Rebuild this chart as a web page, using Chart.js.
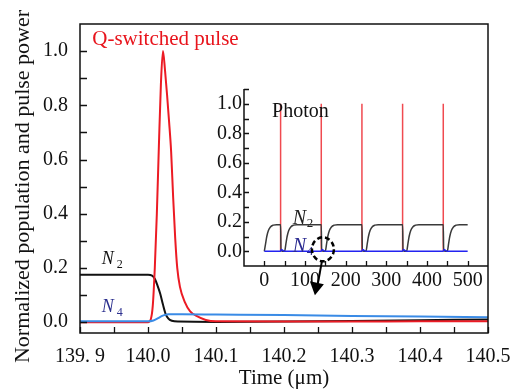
<!DOCTYPE html>
<html>
<head>
<meta charset="utf-8">
<script src="https://cdn.jsdelivr.net/npm/chart.js@4.4.1/dist/chart.umd.min.js"></script>
<style>
  html, body { margin: 0; padding: 0; background: #fff; }
  #wrap { position: relative; width: 523px; height: 389px; overflow: hidden; font-family: "Liberation Serif", serif; }
  #mainChart { position: absolute; left: 0; top: 0; }
  #insetChart { position: absolute; left: 200px; top: 75px; }
</style>
</head>
<body>
<div id="wrap">
  <canvas id="mainChart" width="523" height="389"></canvas>
  <canvas id="insetChart" width="300" height="230"></canvas>
</div>
<script>
// main plot: time axis and tick labels
const xTickValues = [139.9, 140.0, 140.1, 140.2, 140.3, 140.4, 140.5];
const xTickLabels = ["139. 9", "140.0", "140.1", "140.2", "140.3", "140.4", "140.5"];
const xMinorTicks = [139.95, 140.05, 140.15, 140.25, 140.35, 140.45];
const yTickValues = [0, 0.2, 0.4, 0.6, 0.8, 1.0];
const yTickLabels = ["0.0", "0.2", "0.4", "0.6", "0.8", "1.0"];
const yMinorTicks = [0.1, 0.3, 0.5, 0.7, 0.9];

// Q-switched pulse (red)
const pulseTime = [139.9, 140.0, 140.004, 140.007, 140.01, 140.013, 140.016, 140.019, 140.022, 140.025, 140.028,
  140.031, 140.034, 140.037, 140.04, 140.043, 140.047, 140.054, 140.062, 140.072, 140.085, 140.1, 140.2, 140.3, 140.4, 140.5];
const pulseValue = [0, 0, 0.01, 0.06, 0.2, 0.4, 0.65, 0.88, 1.0, 0.93, 0.84,
  0.74, 0.63, 0.46, 0.31, 0.2, 0.13, 0.075, 0.04, 0.022, 0.008, 0.003, 0.002, 0.002, 0.003, 0.003];

// N2 population (black)
const n2Time = [139.9, 140.0, 140.006, 140.01, 140.014, 140.018, 140.022, 140.026, 140.03, 140.035, 140.045,
  140.1, 140.2, 140.3, 140.4, 140.5];
const n2Value = [0.175, 0.175, 0.172, 0.16, 0.135, 0.105, 0.065, 0.03, 0.013, 0.005, 0.002,
  0.001, 0.002, 0.004, 0.007, 0.01];

// N4 population (blue)
const n4Time = [139.9, 140.0, 140.008, 140.015, 140.02, 140.025, 140.03, 140.05, 140.1, 140.2, 140.3, 140.4, 140.5];
const n4Value = [0.003, 0.003, 0.006, 0.015, 0.022, 0.027, 0.029, 0.029, 0.028, 0.026, 0.023, 0.021, 0.018];

// inset: pulse train
const insetXTicks = [0, 100, 200, 300, 400, 500];
const insetXMinor = [50, 150, 250, 350, 450];
const insetYTicks = [0, 0.2, 0.4, 0.6, 0.8, 1.0];
const insetYMinor = [0.1, 0.3, 0.5, 0.7, 0.9, 1.1];

const insetN2Time = [0, 3, 6, 10, 15, 22, 30, 40, 41, 50, 53, 56, 60, 65, 72, 80, 140, 141, 150, 153, 156, 160, 165, 172, 180,
  240, 241, 250, 253, 256, 260, 265, 272, 280, 340, 341, 350, 353, 356, 360, 365, 372, 380,
  440, 441, 450, 453, 456, 460, 465, 472, 480, 500];
const insetN2Value = [0, 0.05, 0.1, 0.14, 0.165, 0.177, 0.18, 0.18, 0.005, 0, 0.05, 0.1, 0.14, 0.165, 0.177, 0.18, 0.18, 0.005, 0, 0.05, 0.1, 0.14, 0.165, 0.177, 0.18,
  0.18, 0.005, 0, 0.05, 0.1, 0.14, 0.165, 0.177, 0.18, 0.18, 0.005, 0, 0.05, 0.1, 0.14, 0.165, 0.177, 0.18,
  0.18, 0.005, 0, 0.05, 0.1, 0.14, 0.165, 0.177, 0.18, 0.18];

const insetN4Time = [0, 40, 42, 46, 50, 140, 142, 146, 150, 240, 242, 246, 250, 340, 342, 346, 350, 440, 442, 446, 450, 500];
const insetN4Value = [0, 0, 0.012, 0.004, 0, 0, 0.012, 0.004, 0, 0, 0.012, 0.004, 0, 0, 0.012, 0.004, 0, 0, 0.012, 0.004, 0, 0];

const photonTime = [40, 140, 240, 340, 440];
const photonPeak = [1, 1, 1, 1, 1];

const serif = "'Liberation Serif', 'Times New Roman', 'DejaVu Serif', serif";
Chart.defaults.font.family = serif;
Chart.defaults.color = "#111";

function pairs(xs, ys) {
  return xs.map((x, i) => ({ x: x, y: ys[i] }));
}

function spikes(xs, ys) {
  const out = [];
  xs.forEach((x, i) => {
    out.push({ x: x, y: 0 }, { x: x, y: ys[i] }, { x: x, y: null });
  });
  return out;
}

function drawTicks(ctx, chart, xs, ys, lenX, lenY) {
  const a = chart.chartArea;
  const sx = chart.scales.x, sy = chart.scales.y;
  ctx.beginPath();
  xs.forEach(v => {
    const px = Math.round(sx.getPixelForValue(v)) + 0.5;
    ctx.moveTo(px, a.bottom);
    ctx.lineTo(px, a.bottom - lenX);
  });
  ys.forEach(v => {
    const py = Math.round(sy.getPixelForValue(v)) + 0.5;
    ctx.moveTo(a.left, py);
    ctx.lineTo(a.left + lenY, py);
  });
  ctx.stroke();
}

function label(ctx, text, x, y, font, color) {
  ctx.font = font;
  ctx.fillStyle = color;
  ctx.textAlign = "left";
  ctx.textBaseline = "alphabetic";
  ctx.fillText(text, x, y);
}

const mainDecor = {
  id: "mainDecor",
  afterDraw(chart) {
    const ctx = chart.ctx;
    const a = chart.chartArea;
    const sx = chart.scales.x, sy = chart.scales.y;
    ctx.save();
    ctx.strokeStyle = "#111";
    ctx.lineWidth = 1.5;
    ctx.strokeRect(a.left, a.top, a.right - a.left, a.bottom - a.top);
    ctx.lineWidth = 1.3;
    drawTicks(ctx, chart, xTickValues.concat(xMinorTicks), yTickValues.concat(yMinorTicks), 6, 7);

    // y axis title, sits a bit below the plot centre in the original
    ctx.save();
    ctx.translate(23, (a.top + a.bottom) / 2 + 8);
    ctx.rotate(-Math.PI / 2);
    ctx.font = "22px " + serif;
    ctx.fillStyle = "#111";
    ctx.textAlign = "center";
    ctx.textBaseline = "middle";
    ctx.fillText("Normalized population and pulse power", 0, 0);
    ctx.restore();

    label(ctx, "Q-switched pulse", sx.getPixelForValue(139.918), sy.getPixelForValue(1.023), "21px " + serif, "#e8141c");
    const nx = sx.getPixelForValue(139.932);
    const n2y = sy.getPixelForValue(0.213);
    label(ctx, "N", nx, n2y, "italic 18px " + serif, "#111");
    label(ctx, "2", nx + 15, n2y + 4, "12px " + serif, "#111");
    const n4y = sy.getPixelForValue(0.036);
    label(ctx, "N", nx, n4y, "italic 18px " + serif, "#2b2f8e");
    label(ctx, "4", nx + 15, n4y + 4, "12px " + serif, "#2b2f8e");
    ctx.restore();
  }
};

const insetDecor = {
  id: "insetDecor",
  afterDraw(chart) {
    const ctx = chart.ctx;
    const a = chart.chartArea;
    const sx = chart.scales.x, sy = chart.scales.y;
    ctx.save();
    ctx.strokeStyle = "#111";
    ctx.lineWidth = 1.5;
    ctx.beginPath();
    ctx.moveTo(a.left, a.top);
    ctx.lineTo(a.left, a.bottom);
    ctx.lineTo(a.right, a.bottom);
    ctx.stroke();
    ctx.lineWidth = 1.3;
    drawTicks(ctx, chart, insetXTicks.concat(insetXMinor), insetYTicks.concat(insetYMinor), 5, 5);

    label(ctx, "Photon", sx.getPixelForValue(19), sy.getPixelForValue(0.908), "20px " + serif, "#111");
    const nx = sx.getPixelForValue(70);
    const n2y = sy.getPixelForValue(0.185);
    label(ctx, "N", nx, n2y, "italic 20px " + serif, "#222");
    label(ctx, "2", nx + 14, n2y + 3, "13px " + serif, "#222");
    const n4y = sy.getPixelForValue(-0.007);
    label(ctx, "N", nx, n4y, "italic 20px " + serif, "#2a2a90");
    label(ctx, "4", nx + 14, n4y + 3, "13px " + serif, "#2a2a90");

    // dashed zoom circle and arrow
    const cx = sx.getPixelForValue(144);
    const cy = sy.getPixelForValue(0.013);
    ctx.strokeStyle = "#000";
    ctx.lineWidth = 2.5;
    ctx.setLineDash([5, 3]);
    ctx.beginPath();
    ctx.ellipse(cx, cy, 11, 12, 0, 0, Math.PI * 2);
    ctx.stroke();
    ctx.setLineDash([]);
    ctx.lineWidth = 2;
    ctx.beginPath();
    ctx.moveTo(cx - 1, cy + 12);
    ctx.lineTo(cx - 5, cy + 34);
    ctx.stroke();
    ctx.fillStyle = "#000";
    ctx.beginPath();
    ctx.moveTo(cx - 8, cy + 46);
    ctx.lineTo(cx - 13, cy + 32);
    ctx.lineTo(cx + 1, cy + 35);
    ctx.closePath();
    ctx.fill();
    ctx.restore();
  }
};

function drawCharts() {
  new Chart(document.getElementById("mainChart"), {
    type: "line",
    data: {
      datasets: [
        { label: "N4", data: pairs(n4Time, n4Value), borderColor: "#3a8be6" },
        { label: "pulse", data: pairs(pulseTime, pulseValue), borderColor: "#ec1b24" },
        { label: "N2", data: pairs(n2Time, n2Value), borderColor: "#111111" }
      ]
    },
    options: {
      responsive: false,
      animation: false,
      layout: { padding: { top: 16, right: 35, left: 0, bottom: 0 } },
      plugins: { legend: { display: false }, tooltip: { enabled: false } },
      elements: {
        point: { radius: 0 },
        line: { borderWidth: 2, cubicInterpolationMode: "monotone", fill: false }
      },
      scales: {
        x: {
          type: "linear",
          min: 139.9,
          max: 140.5,
          afterBuildTicks: s => { s.ticks = xTickValues.map(v => ({ value: v })); },
          afterFit: s => { s.height = 56; },
          grid: { display: false, drawTicks: false },
          border: { display: false },
          ticks: {
            padding: 12,
            maxRotation: 0,
            autoSkip: false,
            font: { size: 20 },
            callback: (v, i) => xTickLabels[i]
          },
          title: { display: true, text: "Time (μm)", font: { size: 21, lineHeight: 1 }, padding: { top: 0, bottom: 0 } }
        },
        y: {
          min: -0.04,
          max: 1.1,
          afterBuildTicks: s => { s.ticks = yTickValues.map(v => ({ value: v })); },
          afterFit: s => { s.width = 80; },
          grid: { display: false, drawTicks: false },
          border: { display: false },
          ticks: {
            padding: 12,
            autoSkip: false,
            font: { size: 20 },
            callback: (v, i) => yTickLabels[i]
          }
        }
      }
    },
    plugins: [mainDecor]
  });

  new Chart(document.getElementById("insetChart"), {
    type: "line",
    data: {
      datasets: [
        { label: "N4", data: pairs(insetN4Time, insetN4Value), borderColor: "#2323f0", borderWidth: 1.5 },
        { label: "N2", data: pairs(insetN2Time, insetN2Value), borderColor: "#3a3a3a", borderWidth: 1.5 },
        { label: "Photon", data: spikes(photonTime, photonPeak), borderColor: "#f04a50", borderWidth: 1.5, cubicInterpolationMode: "default", tension: 0 }
      ]
    },
    options: {
      responsive: false,
      animation: false,
      layout: { padding: { top: 10, right: 12, left: 0, bottom: 0 } },
      plugins: { legend: { display: false }, tooltip: { enabled: false } },
      elements: {
        point: { radius: 0 },
        line: { cubicInterpolationMode: "monotone", fill: false }
      },
      scales: {
        x: {
          type: "linear",
          min: -50,
          max: 550,
          afterBuildTicks: s => { s.ticks = insetXTicks.map(v => ({ value: v })); },
          afterFit: s => { s.height = 39; },
          grid: { display: false, drawTicks: false },
          border: { display: false },
          ticks: { padding: 3, maxRotation: 0, autoSkip: false, font: { size: 20 } }
        },
        y: {
          min: -0.1,
          max: 1.1,
          afterBuildTicks: s => { s.ticks = insetYTicks.map(v => ({ value: v })); },
          afterFit: s => { s.width = 44; },
          grid: { display: false, drawTicks: false },
          border: { display: false },
          ticks: { padding: 2, autoSkip: false, font: { size: 20 }, callback: v => v.toFixed(1) }
        }
      }
    },
    plugins: [insetDecor]
  });
}

if (document.fonts && document.fonts.load) {
  Promise.all([
    document.fonts.load("20px 'Liberation Serif'"),
    document.fonts.load("italic 20px 'Liberation Serif'")
  ]).then(drawCharts, drawCharts);
} else {
  drawCharts();
}
</script>
</body>
</html>
